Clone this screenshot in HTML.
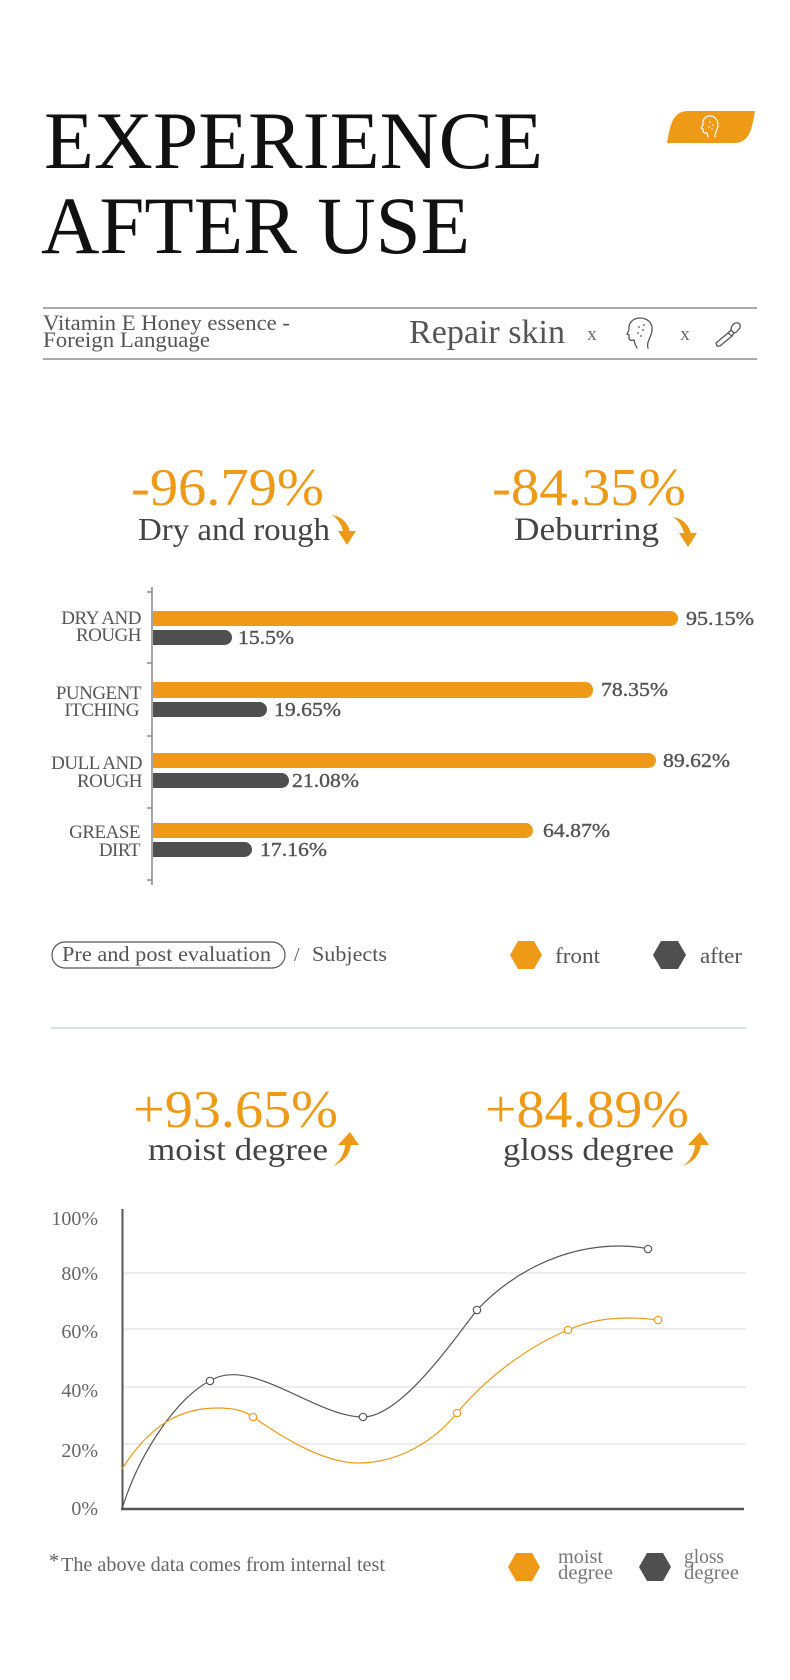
<!DOCTYPE html>
<html><head><meta charset="utf-8"><style>
html,body{margin:0;padding:0;background:#fff;}
svg{display:block;}
text{font-family:"Liberation Serif",serif;}
</style></head><body>
<svg width="790" height="1680" viewBox="0 0 790 1680" xmlns="http://www.w3.org/2000/svg">
<rect width="790" height="1680" fill="#fff"/>
<!-- Title -->
<text x="44" y="168" font-size="82" fill="#111" textLength="499" lengthAdjust="spacingAndGlyphs">EXPERIENCE</text>
<text x="41" y="253" font-size="82" fill="#111" textLength="429" lengthAdjust="spacingAndGlyphs">AFTER USE</text>
<!-- tag -->
<path d="M667,143 C670,125 673,111 688,111 L755,111 C752,128 750,143 734,143 Z" fill="#EF9A17"/>
<g fill="none" stroke="#fff" stroke-width="1.2" stroke-linecap="round">
<path d="M715,137 C714,133 718,130 718,125 C718,119 714,116 710,116 C705,116 702,120 703,125 L701,128 L703,129 L703,131 C703,133 705,133 707,133 L708,137"/>
</g>
<g fill="#fff"><circle cx="710" cy="122" r="0.8"/><circle cx="713" cy="125" r="0.8"/><circle cx="709" cy="127" r="0.8"/><circle cx="712" cy="129" r="0.8"/></g>
<!-- header lines -->
<line x1="43" y1="308" x2="757" y2="308" stroke="#8f8f8f" stroke-width="1.5"/>
<line x1="43" y1="359" x2="757" y2="359" stroke="#8f8f8f" stroke-width="1.5"/>
<text x="43" y="330" font-size="22" fill="#555" textLength="247" lengthAdjust="spacingAndGlyphs">Vitamin E Honey essence -</text>
<text x="43" y="347" font-size="22" fill="#555" textLength="167" lengthAdjust="spacingAndGlyphs">Foreign Language</text>
<text x="409" y="343" font-size="34" fill="#555" textLength="156" lengthAdjust="spacingAndGlyphs">Repair skin</text>
<text x="592" y="340" font-size="19" fill="#666" text-anchor="middle">x</text>
<text x="685" y="340" font-size="19" fill="#666" text-anchor="middle">x</text>
<g fill="none" stroke="#555" stroke-width="1.3" stroke-linecap="round" stroke-linejoin="round">
<path d="M648,348 C646,342 652,336 652,330 C653,322 646,318 640,318 C633,318 628,323 629,330 L627,334 L629,335 L629,338 C629,340 631,341 634,340 L635,344 L637,348"/>
<path d="M717,346 L716,343 L728,333 L732,336 L720,346 Z"/>
<path d="M728,333 L731,330 L734,333 L732,336"/>
<path d="M731,330 C731,325 735,322 738,323 C741,324 741,328 738,330 C737,332 735,333 734,333"/>
</g>
<g fill="#555"><circle cx="639" cy="327" r="0.9"/><circle cx="643" cy="330" r="0.9"/><circle cx="638" cy="333" r="0.9"/><circle cx="641" cy="336" r="0.9"/><circle cx="644" cy="325" r="0.9"/></g>

<!-- Section 1 headline -->
<text x="131" y="505" font-size="53" fill="#EF9A17" textLength="193" lengthAdjust="spacingAndGlyphs">-96.79%</text>
<text x="138" y="540" font-size="32" fill="#444" textLength="192" lengthAdjust="spacingAndGlyphs">Dry and rough</text>
<g fill="#EF9A17">
<path d="M332,515 C340,516 348,522 350,532 L343,532 C342,525 338,519 332,515 Z"/>
<path d="M338,531 L356,531 L347,545 Z"/>
<path d="M673,517 C681,518 689,524 691,534 L684,534 C683,527 679,521 673,517 Z"/>
<path d="M679,533 L697,533 L688,547 Z"/>
</g>
<text x="492" y="505" font-size="53" fill="#EF9A17" textLength="194" lengthAdjust="spacingAndGlyphs">-84.35%</text>
<text x="514" y="540" font-size="33" fill="#444" textLength="145" lengthAdjust="spacingAndGlyphs">Deburring</text>

<!-- Bar chart -->
<line x1="152" y1="587" x2="152" y2="885" stroke="#888" stroke-width="1.5"/>
<g stroke="#888" stroke-width="1.5">
<line x1="147" y1="592" x2="152" y2="592"/><line x1="147" y1="663" x2="152" y2="663"/>
<line x1="147" y1="736" x2="152" y2="736"/><line x1="147" y1="808" x2="152" y2="808"/>
<line x1="147" y1="880" x2="152" y2="880"/>
</g>
<g fill="#EF9A17">
<rect x="153" y="611" width="525" height="15" rx="7.5"/><rect x="153" y="611" width="20" height="15"/>
<rect x="153" y="682" width="440" height="16" rx="7.5"/><rect x="153" y="682" width="20" height="16"/>
<rect x="153" y="753" width="503" height="15" rx="7.5"/><rect x="153" y="753" width="20" height="15"/>
<rect x="153" y="823" width="380" height="15" rx="7.5"/><rect x="153" y="823" width="20" height="15"/>
</g>
<g fill="#4F4F4F">
<rect x="153" y="630" width="79" height="15" rx="7.5"/><rect x="153" y="630" width="20" height="15"/>
<rect x="153" y="702" width="114" height="15" rx="7.5"/><rect x="153" y="702" width="20" height="15"/>
<rect x="153" y="773" width="136" height="15" rx="7.5"/><rect x="153" y="773" width="20" height="15"/>
<rect x="153" y="842" width="99" height="15" rx="7.5"/><rect x="153" y="842" width="20" height="15"/>
</g>
<g font-size="20" fill="#555" stroke="#555" stroke-width="0.4">
<text x="686" y="625" textLength="68" lengthAdjust="spacingAndGlyphs">95.15%</text>
<text x="238" y="644" textLength="56" lengthAdjust="spacingAndGlyphs">15.5%</text>
<text x="601" y="696" textLength="67" lengthAdjust="spacingAndGlyphs">78.35%</text>
<text x="274" y="716" textLength="67" lengthAdjust="spacingAndGlyphs">19.65%</text>
<text x="663" y="767" textLength="67" lengthAdjust="spacingAndGlyphs">89.62%</text>
<text x="292" y="787" textLength="67" lengthAdjust="spacingAndGlyphs">21.08%</text>
<text x="543" y="837" textLength="67" lengthAdjust="spacingAndGlyphs">64.87%</text>
<text x="260" y="856" textLength="67" lengthAdjust="spacingAndGlyphs">17.16%</text>
</g>
<g font-size="19" fill="#555" text-anchor="end" letter-spacing="-0.5">
<text x="141" y="624">DRY AND</text>
<text x="141" y="641">ROUGH</text>
<text x="141" y="699">PUNGENT</text>
<text x="139" y="716">ITCHING</text>
<text x="142" y="769">DULL AND</text>
<text x="142" y="787">ROUGH</text>
<text x="140" y="838">GREASE</text>
<text x="140" y="856">DIRT</text>
</g>

<!-- Legend row -->
<rect x="52" y="942" width="233" height="26" rx="13" fill="none" stroke="#555" stroke-width="1.2"/>
<text x="62" y="961" font-size="21" fill="#555" textLength="209" lengthAdjust="spacingAndGlyphs">Pre and post evaluation</text>
<text x="294" y="961" font-size="20" fill="#555">/</text>
<text x="312" y="961" font-size="21" fill="#555" textLength="75" lengthAdjust="spacingAndGlyphs">Subjects</text>
<polygon points="510,955 518,941 534,941 542,955 534,969 518,969" fill="#EF9A17"/>
<text x="555" y="963" font-size="22" fill="#555" textLength="45" lengthAdjust="spacingAndGlyphs">front</text>
<polygon points="653,955 661,941 678,941 686,955 678,969 661,969" fill="#4F4F4F"/>
<text x="700" y="963" font-size="22" fill="#555" textLength="42" lengthAdjust="spacingAndGlyphs">after</text>

<line x1="51" y1="1028" x2="746" y2="1028" stroke="#cddcd9" stroke-width="1.5"/>

<!-- Section 2 headline -->
<text x="133" y="1127" font-size="53" fill="#EF9A17" textLength="205" lengthAdjust="spacingAndGlyphs">+93.65%</text>
<text x="148" y="1160" font-size="32" fill="#444" textLength="180" lengthAdjust="spacingAndGlyphs">moist degree</text>
<text x="485" y="1127" font-size="53" fill="#EF9A17" textLength="204" lengthAdjust="spacingAndGlyphs">+84.89%</text>
<text x="503" y="1160" font-size="32" fill="#444" textLength="171" lengthAdjust="spacingAndGlyphs">gloss degree</text>
<g fill="#EF9A17">
<path d="M333,1166 C343,1162 350,1155 351,1144 L345,1144 C345,1153 340,1161 333,1166 Z"/>
<path d="M338,1145 L359,1145 L350,1132 Z"/>
<path d="M683,1166 C693,1162 700,1155 701,1144 L695,1144 C695,1153 690,1161 683,1166 Z"/>
<path d="M688,1145 L709,1145 L700,1132 Z"/>
</g>

<!-- Line chart -->
<g stroke="#e6e6e6" stroke-width="1.5">
<line x1="124" y1="1273" x2="746" y2="1273"/>
<line x1="124" y1="1329" x2="746" y2="1329"/>
<line x1="124" y1="1387" x2="746" y2="1387"/>
<line x1="124" y1="1444" x2="746" y2="1444"/>
</g>
<line x1="122.5" y1="1209" x2="122.5" y2="1510" stroke="#555" stroke-width="2"/>
<line x1="121" y1="1509" x2="744" y2="1509" stroke="#555" stroke-width="2.5"/>
<g font-size="20" fill="#666" text-anchor="end">
<text x="98" y="1225">100%</text>
<text x="98" y="1280">80%</text>
<text x="98" y="1338">60%</text>
<text x="98" y="1397">40%</text>
<text x="98" y="1457">20%</text>
<text x="98" y="1515">0%</text>
</g>
<path d="M122,1509 C140,1450 180,1395 210,1381 C250,1355 315,1417 363,1417 C400,1417 450,1345 477,1310 C510,1275 560,1246 620,1246 C632,1246 640,1247 648,1249" fill="none" stroke="#555" stroke-width="1.2"/>
<path d="M122,1469 C150,1425 180,1408 217,1408 C235,1408 245,1411 253,1417 C275,1432 320,1463 358,1463 C400,1463 435,1440 457,1413 C480,1385 520,1350 568,1330 C590,1320 610,1318 630,1318 C642,1318 650,1319 658,1320" fill="none" stroke="#EF9A17" stroke-width="1.2"/>
<g fill="#fff" stroke="#555" stroke-width="1.2">
<circle cx="210" cy="1381" r="3.7"/><circle cx="363" cy="1417" r="3.7"/><circle cx="477" cy="1310" r="3.7"/><circle cx="648" cy="1249" r="3.7"/>
</g>
<g fill="#fff" stroke="#EF9A17" stroke-width="1.2">
<circle cx="253" cy="1417" r="3.7"/><circle cx="457" cy="1413" r="3.7"/><circle cx="568" cy="1330" r="3.7"/><circle cx="658" cy="1320" r="3.7"/>
</g>

<!-- footnote & legend -->
<text x="49" y="1567" font-size="20" fill="#555">*</text>
<text x="61" y="1571" font-size="20" fill="#666" textLength="324" lengthAdjust="spacingAndGlyphs">The above data comes from internal test</text>
<polygon points="508,1567 516,1553 532,1553 540,1567 532,1581 516,1581" fill="#EF9A17"/>
<text x="558" y="1563" font-size="20" fill="#777" textLength="45" lengthAdjust="spacingAndGlyphs">moist</text>
<text x="558" y="1579" font-size="20" fill="#777" textLength="55" lengthAdjust="spacingAndGlyphs">degree</text>
<polygon points="639,1567 647,1553 663,1553 671,1567 663,1581 647,1581" fill="#4F4F4F"/>
<text x="684" y="1563" font-size="20" fill="#777" textLength="40" lengthAdjust="spacingAndGlyphs">gloss</text>
<text x="684" y="1579" font-size="20" fill="#777" textLength="55" lengthAdjust="spacingAndGlyphs">degree</text>
</svg>
</body></html>
